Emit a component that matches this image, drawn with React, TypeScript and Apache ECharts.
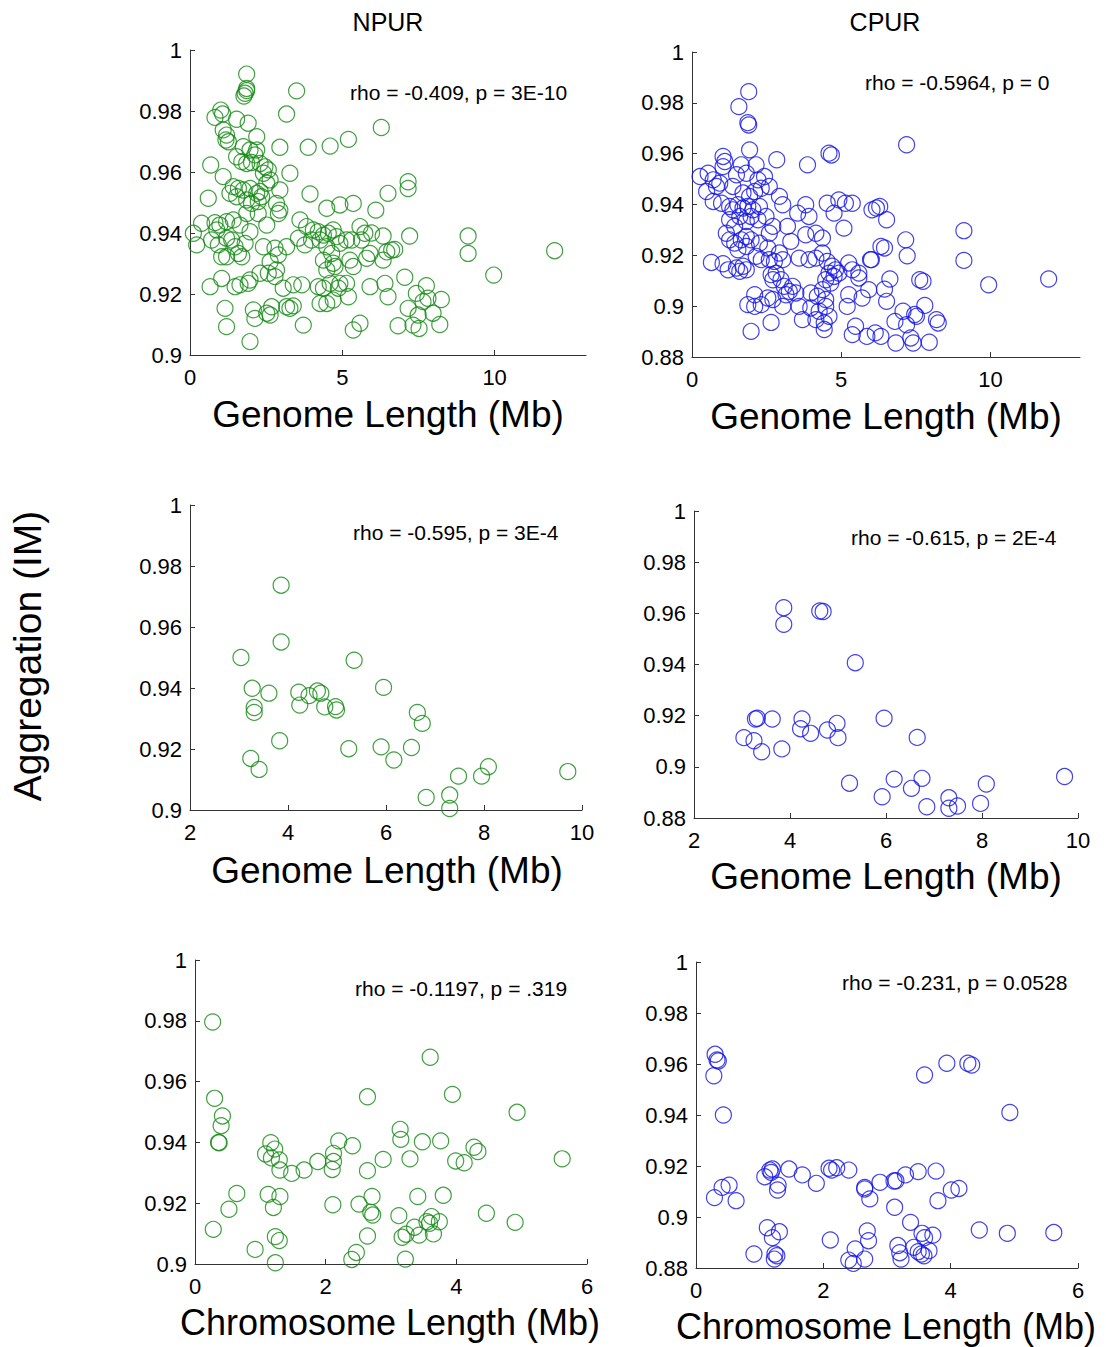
import React, { useEffect, useRef } from "react";
import * as echarts from "echarts";

// ---------- data ----------
const npurGenome: number[][] = [
  [1.86,0.9921],[1.86,0.9874],[1.81,0.9858],[1.86,0.9867],[1.77,0.9849],[3.50,0.9866],[3.17,0.9790],[1.01,0.9803],[1.07,0.9790],[0.82,0.9779],
  [1.53,0.9773],[1.91,0.9760],[2.19,0.9716],[1.09,0.9738],[1.20,0.9721],[1.18,0.9705],[1.26,0.9699],[2.95,0.9681],[3.88,0.9681],[4.60,0.9685],
  [5.20,0.9707],[1.75,0.9683],[1.97,0.9672],[2.19,0.9672],[2.13,0.9656],[1.53,0.9650],[1.70,0.9634],[1.86,0.9628],[2.02,0.9631],[2.30,0.9628],
  [2.46,0.9617],[2.57,0.9607],[0.68,0.9623],[3.28,0.9596],[1.09,0.9585],[2.41,0.9596],[2.63,0.9574],[2.52,0.9563],[1.42,0.9552],[1.59,0.9546],
  [1.75,0.9541],[1.97,0.9546],[2.19,0.9530],[2.30,0.9536],[2.35,0.9519],[1.31,0.9530],[1.53,0.9519],[2.95,0.9541],[3.94,0.9528],[0.60,0.9514],
  [1.86,0.9508],[2.02,0.9497],[2.24,0.9503],[2.84,0.9497],[2.95,0.9475],[2.90,0.9464],[4.49,0.9481],[4.92,0.9492],[5.36,0.9497],[3.61,0.9443],
  [1.86,0.9464],[2.24,0.9464],[2.52,0.9426],[1.42,0.9443],[1.64,0.9426],[1.20,0.9437],[0.38,0.9432],[0.82,0.9434],[0.98,0.9426],[0.88,0.9410],
  [0.22,0.9361],[0.11,0.9399],[0.71,0.9377],[0.93,0.9361],[1.20,0.9383],[1.37,0.9377],[1.48,0.9355],[1.59,0.9333],[1.70,0.9322],[1.81,0.9366],
  [1.97,0.9404],[3.83,0.9421],[4.05,0.9410],[4.21,0.9404],[4.38,0.9393],[4.54,0.9399],[4.70,0.9410],[4.81,0.9388],[4.27,0.9377],[3.99,0.9377],
  [4.49,0.9355],[4.65,0.9333],[4.38,0.9311],[4.70,0.9301],[4.49,0.9279],[4.76,0.9290],[3.56,0.9383],[3.77,0.9361],[4.92,0.9366],[5.14,0.9377],
  [5.31,0.9377],[5.25,0.9311],[5.36,0.9290],[5.58,0.9421],[5.74,0.9399],[5.63,0.9377],[5.80,0.9317],[2.41,0.9355],[2.79,0.9350],[2.90,0.9328],
  [3.17,0.9355],[2.63,0.9306],[2.84,0.9279],[2.57,0.9268],[2.79,0.9257],[1.04,0.9322],[1.20,0.9322],[0.66,0.9224],[1.04,0.9251],[1.48,0.9224],
  [1.64,0.9230],[1.91,0.9235],[1.97,0.9246],[2.30,0.9268],[3.06,0.9219],[3.39,0.9230],[3.67,0.9230],[4.21,0.9224],[4.38,0.9219],[4.60,0.9235],
  [4.87,0.9219],[4.92,0.9235],[5.14,0.9235],[5.20,0.9191],[4.27,0.9169],[4.49,0.9169],[4.70,0.9180],[1.15,0.9153],[1.20,0.9093],[2.08,0.9148],
  [2.13,0.9120],[2.52,0.9137],[2.63,0.9131],[2.68,0.9158],[3.17,0.9158],[3.28,0.9153],[3.39,0.9161],[1.97,0.9044],[3.72,0.9098],[5.36,0.9082],
  [5.58,0.9104],[6.28,0.9746],[7.16,0.9568],[7.16,0.9546],[6.50,0.9530],[6.10,0.9475],[5.96,0.9400],[6.34,0.9390],[7.21,0.9390],[9.13,0.9390],
  [9.13,0.9333],[11.97,0.9342],[9.97,0.9262],[5.91,0.9333],[6.46,0.9338],[6.62,0.9344],[6.72,0.9346],[6.34,0.9311],[5.91,0.9224],[6.40,0.9235],
  [6.50,0.9191],[7.05,0.9255],[7.43,0.9202],[7.76,0.9227],[7.65,0.9175],[7.81,0.9186],[8.25,0.9182],[7.16,0.9153],[7.49,0.9131],[7.98,0.9137],
  [6.83,0.9096],[7.32,0.9098],[7.52,0.9087],[8.20,0.9100]
];

const cpurGenome: number[][] = [
  [1.90,0.9844],[1.57,0.9785],[1.87,0.9722],[1.90,0.9713],[1.93,0.9615],[2.84,0.9576],[3.87,0.9556],[4.59,0.9602],[4.67,0.9595],[1.04,0.9589],
  [1.10,0.9569],[1.04,0.9549],[0.27,0.9510],[0.54,0.9523],[0.71,0.9497],[0.82,0.9471],[0.49,0.9451],[0.93,0.9484],[1.65,0.9556],[2.15,0.9556],
  [2.21,0.9497],[2.43,0.9510],[1.49,0.9517],[1.82,0.9523],[1.37,0.9471],[1.71,0.9445],[1.93,0.9432],[2.10,0.9451],[2.32,0.9464],[2.59,0.9471],
  [0.71,0.9412],[0.99,0.9405],[1.26,0.9392],[1.37,0.9379],[1.54,0.9399],[1.71,0.9386],[1.87,0.9392],[2.04,0.9379],[2.26,0.9392],[2.93,0.9432],
  [3.04,0.9399],[3.81,0.9399],[3.54,0.9366],[3.92,0.9353],[4.53,0.9405],[4.92,0.9418],[4.76,0.9366],[5.14,0.9405],[5.37,0.9405],[5.09,0.9307],
  [6.03,0.9379],[1.26,0.9340],[1.43,0.9314],[1.60,0.9353],[1.82,0.9333],[1.98,0.9353],[2.21,0.9340],[2.48,0.9353],[2.71,0.9314],[3.20,0.9314],
  [2.59,0.9287],[3.81,0.9281],[4.15,0.9287],[4.37,0.9268],[3.31,0.9255],[1.15,0.9287],[1.26,0.9261],[1.43,0.9248],[1.65,0.9261],[1.82,0.9274],
  [1.98,0.9261],[1.82,0.9235],[1.54,0.9222],[2.26,0.9248],[2.54,0.9229],[2.93,0.9209],[2.15,0.9196],[2.32,0.9183],[2.59,0.9183],[2.76,0.9176],
  [3.04,0.9183],[0.65,0.9172],[1.04,0.9167],[1.21,0.9143],[1.49,0.9150],[1.60,0.9137],[1.71,0.9157],[1.82,0.9143],[3.59,0.9189],[3.92,0.9183],
  [4.15,0.9189],[4.37,0.9209],[4.53,0.9176],[4.70,0.9157],[4.59,0.9130],[4.76,0.9117],[4.48,0.9104],[4.65,0.9091],[4.81,0.9143],[4.92,0.9130],
  [5.25,0.9170],[5.37,0.9143],[5.59,0.9130],[5.59,0.9111],[5.98,0.9183],[2.65,0.9124],[2.82,0.9130],[2.98,0.9104],[2.71,0.9104],[3.09,0.9078],
  [3.26,0.9058],[3.37,0.9078],[3.15,0.9045],[3.48,0.9052],[3.98,0.9052],[4.20,0.9039],[4.37,0.9065],[4.48,0.9026],[5.25,0.9045],[5.70,0.9032],
  [5.92,0.9065],[2.10,0.9045],[2.54,0.9032],[1.87,0.9006],[2.10,0.8999],[2.32,0.9006],[2.71,0.9026],[3.04,0.8999],[3.59,0.8999],[3.98,0.8993],
  [4.26,0.8980],[4.48,0.8999],[5.20,0.8999],[3.70,0.8947],[4.15,0.8947],[4.59,0.8960],[4.43,0.8934],[4.43,0.8908],[2.65,0.8936],[1.98,0.8901],
  [5.37,0.8888],[5.48,0.8921],[5.86,0.8881],[6.14,0.8895],[7.19,0.9635],[6.18,0.9386],[6.29,0.9392],[6.52,0.9340],[7.16,0.9261],[7.21,0.9198],
  [6.33,0.9235],[6.45,0.9229],[6.01,0.9183],[9.11,0.9297],[9.11,0.9180],[9.94,0.9084],[11.95,0.9107],[6.63,0.9107],[6.45,0.9067],[6.52,0.9019],
  [7.63,0.9104],[7.74,0.9098],[7.80,0.9003],[7.07,0.8980],[7.46,0.8967],[7.52,0.8960],[6.80,0.8940],[7.19,0.8927],[8.19,0.8947],[8.25,0.8934],
  [6.33,0.8881],[6.83,0.8855],[7.33,0.8875],[7.41,0.8855],[7.95,0.8858]
];

const npurGenomeSub: number[][] = [
  [3.86,0.9737],[3.86,0.9551],[3.04,0.9500],[5.35,0.9491],[3.27,0.9399],[3.61,0.9383],[5.95,0.9402],[4.22,0.9386],[4.43,0.9375],[4.60,0.9390],
  [4.67,0.9383],[4.24,0.9344],[4.75,0.9338],[4.97,0.9339],[4.99,0.9328],[3.31,0.9336],[3.31,0.9320],[6.64,0.9320],[6.74,0.9284],[3.83,0.9227],
  [5.24,0.9201],[5.90,0.9207],[6.52,0.9205],[6.16,0.9164],[3.24,0.9169],[3.41,0.9133],[7.48,0.9111],[7.95,0.9111],[8.09,0.9142],[9.71,0.9126],
  [6.82,0.9041],[7.30,0.9049],[7.30,0.9005]
];

const cpurGenomeSub: number[][] = [
  [3.87,0.9622],[3.87,0.9557],[4.62,0.9609],[4.69,0.9607],[5.36,0.9407],[3.28,0.9187],[3.32,0.9190],[3.63,0.9187],[4.25,0.9187],[4.22,0.9149],
  [4.43,0.9131],[4.78,0.9144],[4.98,0.9170],[5.00,0.9114],[5.96,0.9190],[6.65,0.9115],[3.04,0.9114],[3.25,0.9102],[3.41,0.9059],[3.83,0.9070],
  [5.24,0.8936],[6.17,0.8952],[6.75,0.8955],[6.53,0.8916],[5.92,0.8883],[6.85,0.8844],[7.31,0.8879],[7.31,0.8838],[7.49,0.8847],[7.97,0.8857],
  [8.09,0.8933],[9.72,0.8962]
];

const npurChrom: number[][] = [
  [0.27,0.9796],[0.30,0.9545],[0.42,0.9487],[0.40,0.9455],[0.36,0.9400],[0.37,0.9399],[0.28,0.9114],[0.52,0.9180],[0.64,0.9232],[0.92,0.9048],
  [1.16,0.9399],[1.22,0.9378],[1.08,0.9362],[1.17,0.9349],[1.29,0.9342],[1.30,0.9309],[1.48,0.9298],[1.67,0.9309],[1.88,0.9337],[2.12,0.9364],
  [2.12,0.9337],[2.10,0.9311],[2.20,0.9405],[2.41,0.9389],[1.12,0.9229],[1.30,0.9222],[1.20,0.9186],[2.11,0.9195],[1.23,0.9090],[1.29,0.9077],
  [1.23,0.9004],[2.51,0.9197],[2.71,0.9222],[2.69,0.9170],[2.72,0.9161],[2.64,0.9550],[2.64,0.9307],[2.88,0.9344],[2.64,0.9092],[2.47,0.9038],
  [2.40,0.9015],[3.14,0.9443],[3.15,0.9410],[3.29,0.9346],[3.48,0.9402],[3.60,0.9680],[3.76,0.9405],[3.12,0.9159],[3.41,0.9222],[3.36,0.9121],
  [3.43,0.9095],[3.17,0.9088],[3.23,0.9098],[3.55,0.9139],[3.62,0.9156],[3.59,0.9134],[3.74,0.9139],[3.65,0.9099],[3.22,0.9016],[3.80,0.9226],
  [3.94,0.9558],[3.99,0.9339],[4.12,0.9333],[4.27,0.9384],[4.33,0.9370],[4.46,0.9167],[4.93,0.9499],[4.90,0.9137],[5.62,0.9346]
];

const cpurChrom: number[][] = [
  [0.30,0.9638],[0.35,0.9612],[0.33,0.9616],[0.28,0.9554],[0.43,0.9400],[0.29,0.9076],[0.41,0.9116],[0.52,0.9125],[0.63,0.9064],[0.91,0.8855],
  [1.08,0.9158],[1.16,0.9184],[1.20,0.9188],[1.18,0.9175],[1.29,0.9125],[1.28,0.9106],[1.46,0.9188],[1.67,0.9165],[1.89,0.9132],[2.09,0.9191],
  [2.13,0.9184],[2.21,0.9193],[2.40,0.9184],[2.65,0.9116],[2.65,0.9110],[2.89,0.9136],[2.73,0.9071],[3.14,0.9142],[3.11,0.9141],[3.29,0.9165],
  [3.49,0.9178],[3.77,0.9180],[3.12,0.9038],[3.80,0.9064],[4.01,0.9106],[4.13,0.9112],[3.59,0.9557],[3.94,0.9603],[4.27,0.9603],[4.33,0.9596],
  [4.93,0.9410],[1.12,0.8958],[1.20,0.8919],[1.31,0.8942],[1.24,0.8855],[1.27,0.8848],[1.23,0.8835],[2.11,0.8910],[2.50,0.8875],[2.40,0.8831],
  [2.47,0.8818],[2.65,0.8835],[2.69,0.8945],[2.71,0.8907],[3.17,0.8888],[3.20,0.8860],[3.22,0.8835],[3.37,0.8979],[3.42,0.8881],[3.54,0.8855],
  [3.55,0.8936],[3.59,0.8919],[3.66,0.8868],[3.72,0.8929],[3.49,0.8864],[3.58,0.8848],[4.45,0.8949],[4.89,0.8936],[5.62,0.8939]
];

const columnTitles = ["NPUR", "CPUR"];
const yAxisTitle = "Aggregation (IM)";
const xTitles = ["Genome Length (Mb)", "Genome Length (Mb)", "Genome Length (Mb)", "Genome Length (Mb)", "Chromosome Length (Mb)", "Chromosome Length (Mb)"];
const statLabels = [
  "rho = -0.409, p = 3E-10",
  "rho = -0.5964, p = 0",
  "rho = -0.595, p = 3E-4",
  "rho = -0.615, p = 2E-4",
  "rho = -0.1197, p = .319",
  "rho = -0.231, p = 0.0528",
];
const xRanges = [[0, 13, 5], [0, 13, 5], [2, 10, 2], [2, 10, 2], [0, 6, 2], [0, 6, 2]];
const xTickValues = [[0, 5, 10], [0, 5, 10], [2, 4, 6, 8, 10], [2, 4, 6, 8, 10], [0, 2, 4, 6], [0, 2, 4, 6]];
const yRanges = [[0.9, 1], [0.88, 1], [0.9, 1], [0.88, 1], [0.9, 1], [0.88, 1]];
const yInterval = 0.02;

// ---------- layout ----------
const grids = [
  { left: 190, top: 50, width: 396, height: 305 },
  { left: 692, top: 52, width: 388, height: 305 },
  { left: 190, top: 505, width: 392, height: 305 },
  { left: 694, top: 511, width: 384, height: 307 },
  { left: 195, top: 960, width: 392, height: 304 },
  { left: 696, top: 962, width: 382, height: 306 },
];
const statPos = [[350, 92], [865, 82], [353, 532], [851, 537], [355, 988], [842, 982]];
const xTitlePos = [[388, 414], [886, 416], [387, 870], [886, 876], [390, 1322], [886, 1326]];
const titlePos = [[388, 22], [885, 22]];

const FONT = "'Liberation Sans', Arial, Helvetica, sans-serif";
const GREEN = "#128a12";
const BLUE = "#1414e6";
const AXIS = "#333333";

export default function App() {
  const ref = useRef<HTMLDivElement>(null);
  useEffect(() => {
    if (!ref.current) return;
    const chart = echarts.init(ref.current, undefined, { renderer: "svg" });
    const datasets = [npurGenome, cpurGenome, npurGenomeSub, cpurGenomeSub, npurChrom, cpurChrom];

    const xAxis = grids.map((_, i) => ({
      gridIndex: i,
      type: "value",
      min: xRanges[i][0],
      max: xRanges[i][1],
      interval: xRanges[i][2],
      axisLine: { show: true, onZero: false, lineStyle: { color: AXIS, width: 1 } },
      axisTick: { show: true, inside: true, length: 5, customValues: xTickValues[i], lineStyle: { color: AXIS } },
      axisLabel: { show: true, customValues: xTickValues[i], fontSize: 22, color: "#000", margin: 11, fontFamily: FONT },
      splitLine: { show: false },
    }));
    const yAxis = grids.map((_, i) => ({
      gridIndex: i,
      type: "value",
      min: yRanges[i][0],
      max: yRanges[i][1],
      interval: yInterval,
      axisLine: { show: true, onZero: false, lineStyle: { color: AXIS, width: 1 } },
      axisTick: { show: true, inside: true, length: 5, lineStyle: { color: AXIS } },
      axisLabel: { show: true, fontSize: 22, color: "#000", margin: 8, fontFamily: FONT },
      splitLine: { show: false },
    }));
    const series = datasets.map((d, i) => ({
      type: "scatter",
      xAxisIndex: i,
      yAxisIndex: i,
      data: d,
      symbol: "circle",
      symbolSize: 16,
      itemStyle: { color: "rgba(0,0,0,0)", borderColor: i % 2 === 0 ? GREEN : BLUE, borderWidth: 1.2 },
      emphasis: { disabled: true },
      silent: true,
    }));

    const graphic: any[] = [];
    columnTitles.forEach((t, i) => {
      graphic.push({ type: "text", x: titlePos[i][0], y: titlePos[i][1], silent: true,
        style: { text: t, fill: "#000", font: `25px ${FONT}`, align: "center", verticalAlign: "middle" } });
    });
    graphic.push({ type: "text", x: 27, y: 656, rotation: Math.PI / 2, silent: true,
      style: { text: yAxisTitle, fill: "#000", font: `39px ${FONT}`, align: "center", verticalAlign: "middle" } });
    statLabels.forEach((t, i) => {
      graphic.push({ type: "text", x: statPos[i][0], y: statPos[i][1], silent: true,
        style: { text: t, fill: "#000", font: `21px ${FONT}`, align: "left", verticalAlign: "middle" } });
    });
    xTitles.forEach((t, i) => {
      graphic.push({ type: "text", x: xTitlePos[i][0], y: xTitlePos[i][1], silent: true,
        style: { text: t, fill: "#000", font: `${i >= 4 ? 36 : 37}px ${FONT}`, align: "center", verticalAlign: "middle" } });
    });

    chart.setOption({
      animation: false,
      backgroundColor: "#ffffff",
      grid: grids.map((g) => ({ ...g, containLabel: false })),
      xAxis,
      yAxis,
      series,
      graphic,
    });
    return () => chart.dispose();
  }, []);
  return <div ref={ref} style={{ position: "absolute", left: 0, top: 0, width: 1106, height: 1347, background: "#fff" }} />;
}
